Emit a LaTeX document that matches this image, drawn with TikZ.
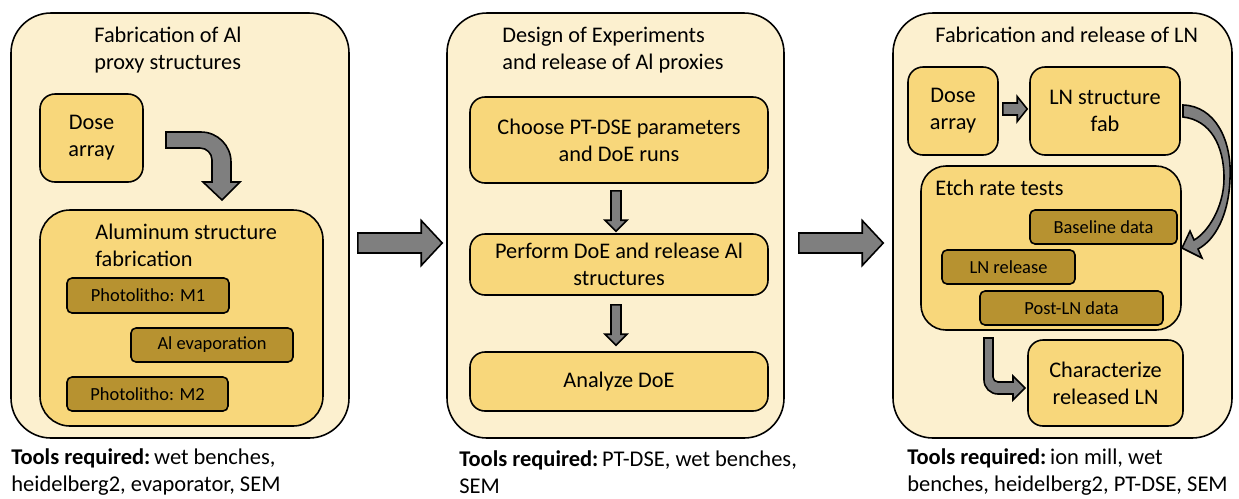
\documentclass[tikz,border=0pt]{standalone}
\usepackage{fontspec}
\setmainfont{Carlito}
\usetikzlibrary{calc}
\definecolor{panelfill}{HTML}{FCF0CF}
\definecolor{boxfill}{HTML}{F8D77B}
\definecolor{subfill}{HTML}{B79230}
\definecolor{arrowgray}{HTML}{7F7F7F}
\newcommand{\dgBig}{\fontsize{12.7}{15.4}\selectfont}
\newcommand{\dgSmall}{\fontsize{10.5}{12.6}\selectfont}
\newcommand{\dgTool}{\fontsize{12.8}{15.6}\selectfont}
\tikzset{
  sz/.style 2 args={minimum width=#1*0.02cm, minimum height=#2*0.02cm},
  panel/.style={draw=black, line width=0.9pt, fill=panelfill, rounded corners=0.8cm, inner sep=0pt},
  box/.style={draw=black, line width=0.9pt, fill=boxfill, rounded corners=0.3cm, inner sep=0pt, align=center, font=\dgBig},
  groupbox/.style={box, rounded corners=0.6cm},
  subbox/.style={draw=black, line width=0.9pt, fill=subfill, rounded corners=0.1cm, inner sep=0pt, font=\dgSmall},
  barrow/.style={draw=black, line width=0.9pt, fill=arrowgray, line join=miter},
  titletext/.style={font=\dgBig, align=left, inner sep=0pt},
  tooltext/.style={font=\dgTool, align=left, inner sep=0pt},
}
% straight block arrow: #1 start, #2 tip, #3 shaft half width, #4 head half width, #5 head length
\newcommand{\blockarr}[5]{%
  \coordinate (hb) at ($(#2)!#5!(#1)$);
  \draw[barrow] ($(#1)!#3!90:(#2)$) -- ($(hb)!#3!90:(#2)$) -- ($(hb)!#4!90:(#2)$) -- (#2)
    -- ($(hb)!#4!-90:(#2)$) -- ($(hb)!#3!-90:(#2)$) -- ($(#1)!#3!-90:(#2)$) -- cycle;}
\begin{document}
\begin{tikzpicture}[x=0.02cm,y=-0.02cm]
\useasboundingbox[fill=white] (0,0) rectangle (1239,498);

% ---------- Panel 1 ----------
\node[panel, sz={338}{425}] (p1) at (180,225.5) {};
\node[titletext, anchor=west] (t1) at (94,50) {Fabrication of Al\\proxy structures};
\node[box, sz={103}{88}] (dose1) at (91.5,138) {Dose\\array};
\node[groupbox, sz={283}{216}] (al) at (181.5,318) {};
\node[titletext, anchor=west] (alt) at (95,245.5) {Aluminum structure\\fabrication};
\node[subbox, sz={162}{35}] (m1) at (148,295.5) {Photolitho: M1};
\node[subbox, sz={162}{34}] (ev) at (212,345) {Al evaporation};
\node[subbox, sz={161}{34}] (m2) at (147.5,394) {Photolitho: M2};
% bent arrow dose1 -> al
\draw[barrow] (166,132) -- (201,132) .. controls (217.5,132) and (231,145.5) .. (231,162)
  -- (231,182) -- (240,182) -- (222,200) -- (203,182) -- (212,182) -- (212,160)
  .. controls (212,153.4) and (206.6,148) .. (200,148) -- (166,148) -- cycle;

% ---------- Panel 2 ----------
\node[panel, sz={337}{425}] (p2) at (615.5,225.5) {};
\node[titletext, anchor=west] (t2) at (502,50) {Design of Experiments\\and release of Al proxies};
\node[box, sz={298}{86}] (choose) at (619,140) {Choose PT-DSE parameters\\and DoE runs};
\node[box, sz={298}{61}] (perform) at (619,264.5) {Perform DoE and release Al\\structures};
\node[box, sz={298}{59}] (analyze) at (619,381.5) {Analyze DoE};
\coordinate (d1s) at ($(choose.south)+(-3,7)$);
\coordinate (d1e) at ($(perform.north)+(-3,-2)$);
\blockarr{d1s}{d1e}{0.1cm}{0.22cm}{0.22cm}
\coordinate (d2s) at ($(perform.south)+(-3,9)$);
\coordinate (d2e) at ($(analyze.north)+(-3,-6)$);
\blockarr{d2s}{d2e}{0.1cm}{0.22cm}{0.22cm}

% ---------- Panel 3 ----------
\node[panel, sz={339}{425}] (p3) at (1062.5,225.5) {};
\node[titletext, anchor=base west] (t3) at (935,42) {Fabrication and release of LN};
\node[box, sz={90}{88}] (dose3) at (953,111) {Dose\\array};
\node[box, sz={150}{88}] (lnfab) at (1105,111) {LN structure\\fab};
\node[groupbox, sz={260}{164}, rounded corners=0.5cm] (etch) at (1051,248) {};
\node[titletext, anchor=base west] (etcht) at (935,195) {Etch rate tests};
\node[subbox, sz={147}{34}] (base) at (1103.5,227) {Baseline data};
\node[subbox, sz={133}{34}] (lnrel) at (1008.5,267) {LN release};
\node[subbox, sz={183}{34}] (post) at (1071.5,308) {Post-LN data};
\node[box, sz={155}{86}] (char) at (1105.5,383) {Characterize\\released LN};
\coordinate (s3s) at ($(dose3.east)+(4,-2)$);
\coordinate (s3e) at ($(lnfab.west)+(-2,-2)$);
\blockarr{s3s}{s3e}{0.12cm}{0.25cm}{0.2cm}
% curved arrow lnfab -> etch
\draw[barrow] (1183,105) .. controls (1215,106) and (1232,140) .. (1230,178)
  .. controls (1229,215) and (1215,240) .. (1198,249) -- (1202,258) -- (1182,248)
  -- (1190,231) -- (1194,240) .. controls (1207,233) and (1224,208) .. (1224,178)
  .. controls (1224,145) and (1210,120) .. (1183,117) -- cycle;
% L arrow etch -> char
\draw[barrow] (984,338) -- (993,338) -- (993,377) .. controls (993,379.75) and (995.25,382) .. (998,382)
  -- (1013,382) -- (1013,376) -- (1025,388) -- (1013,400) -- (1013,394) -- (998,394)
  .. controls (990.3,394) and (984,387.7) .. (984,380) -- cycle;

% ---------- Big arrows between panels ----------
\coordinate (a1s) at ($(p1.east)+(8,17.5)$);
\coordinate (a1e) at ($(p2.west)+(-4,17.5)$);
\blockarr{a1s}{a1e}{0.2cm}{0.45cm}{0.42cm}
\coordinate (a2s) at ($(p2.east)+(14,17.5)$);
\coordinate (a2e) at ($(p3.west)+(-9,17.5)$);
\blockarr{a2s}{a2e}{0.2cm}{0.45cm}{0.42cm}

% ---------- Tools ----------
\node[tooltext, anchor=west] (tool1) at (11,472) {\textbf{Tools required:}\,wet benches,\\heidelberg2, evaporator, SEM};
\node[tooltext, anchor=west] (tool2) at (459,472) {\textbf{Tools required:}\,PT-DSE, wet benches,\\SEM};
\node[tooltext, anchor=west] (tool3) at (907,472) {\textbf{Tools required:}\,ion mill, wet\\benches, heidelberg2, PT-DSE, SEM};
\end{tikzpicture}
\end{document}
